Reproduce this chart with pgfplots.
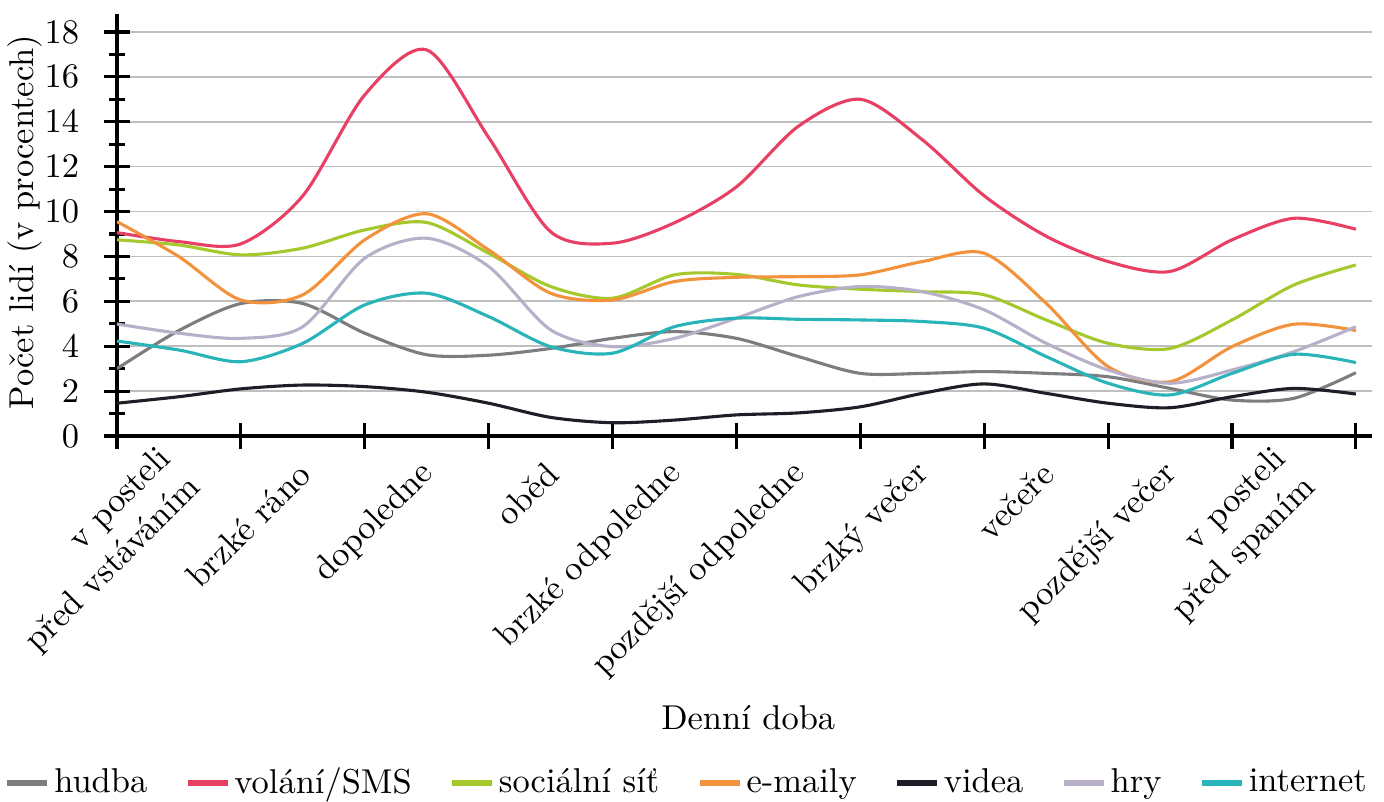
\documentclass[border=0pt]{standalone}
\usepackage{pgfplots}
\usepackage{pgfplotstable}
\pgfplotsset{compat=1.18}

\definecolor{chudba}{RGB}{125,125,128}
\definecolor{csms}{RGB}{232,64,100}
\definecolor{csoc}{RGB}{165,200,45}
\definecolor{cmail}{RGB}{243,146,60}
\definecolor{cvid}{RGB}{30,30,38}
\definecolor{chry}{RGB}{184,176,200}
\definecolor{cnet}{RGB}{40,180,185}

% values read at every tick (t = 0,1,...) and between ticks (t = 0.5, 1.5, ...)
\pgfplotstableread{
t   hudba sms  soc  email videa hry  internet
0   3.00  9.06 8.74 9.55  1.46  4.99 4.23
0.5 4.70  8.66 8.51 7.99  1.75  4.58 3.83
1   5.90  8.56 8.07 6.06  2.10  4.35 3.31
1.5 5.90  10.7 8.37 6.29  2.27  4.87 4.13
2   4.58  15.2 9.18 8.74  2.20  7.92 5.84
2.5 3.62  17.2 9.51 9.90  1.95  8.81 6.36
3   3.60  13.3 8.14 8.29  1.46  7.55 5.32
3.5 3.90  9.10 6.66 6.36  0.83  4.73 3.98
4   4.35  8.59 6.14 6.06  0.59  3.98 3.69
4.5 4.65  9.50 7.18 6.88  0.71  4.35 4.87
5   4.35  11.1 7.20 7.07  0.94  5.25 5.25
5.5 3.54  13.8 6.73 7.10  1.03  6.21 5.20
6   2.79  15.0 6.54 7.18  1.30  6.66 5.17
6.5 2.79  13.2 6.43 7.77  1.90  6.43 5.10
7   2.87  10.7 6.29 8.14  2.32  5.62 4.80
7.5 2.79  8.90 5.17 5.91  1.90  4.13 3.54
8   2.64  7.77 4.13 3.09  1.46  2.94 2.35
8.5 2.12  7.33 3.90 2.42  1.26  2.35 1.83
9   1.60  8.74 5.17 3.98  1.75  2.94 2.79
9.5 1.68  9.70 6.73 4.98  2.12  3.76 3.64
10  2.82  9.21 7.62 4.70  1.87  4.87 3.27
}\data

\begin{document}
\begin{tikzpicture}
\begin{axis}[
    scale only axis,
    width=363.95pt, height=122.38pt,
    xmin=0, xmax=10.13, ymin=0, ymax=18.8,
    axis lines*=left,
    axis line style={line width=0.9pt, black},
    xtick={0,...,10}, xticklabels={},
    extra x ticks={0.5,1.5,2.5,3.5,4.5,5.5,6.5,7.5,8.5,9.5},
    extra x tick labels={{v posteli\\před vstáváním},brzké ráno,dopoledne,oběd,brzké odpoledne,pozdější odpoledne,brzký večer,večeře,pozdější večer,{v posteli\\před spaním}},
    extra x tick style={major tick length=0pt,
        xticklabel style={xshift=3pt, yshift=-7pt, rotate=45, anchor=east, align=right}},
    ytick={0,2,...,18}, minor ytick={1,3,...,17},
    tick align=center, major tick length=7.5pt, minor tick length=4.6pt,
    tick style={line width=0.9pt, black},
    ymajorgrids, grid style={gray!50, line width=0.5pt},
    yticklabel style={xshift=-3.7pt},
    ylabel={Počet lidí (v procentech)},
    ylabel style={at={(axis description cs:-0.0733,0.507)}, anchor=center},
    xlabel={Denní doba},
    xlabel style={at={(axis description cs:0.503,-0.668)}, anchor=center},
    legend columns=7,
    legend style={draw=none, fill=none, at={(axis description cs:-0.0901,-0.822)}, anchor=west,
        inner xsep=0pt, inner ysep=0pt, nodes={inner sep=1.2pt, text depth=0.15em},
        /tikz/every even column/.append style={column sep=9.7pt}},
    legend image code/.code={\draw[#1, line width=1.6pt] (0pt,0pt) -- (11.6pt,0pt);},
    every axis plot/.append style={line width=0.9pt, smooth},
]
\addplot[chudba] table[x=t, y=hudba]{\data};
\addlegendentry{hudba}
\addplot[csms] table[x=t, y=sms]{\data};
\addlegendentry{volání/SMS}
\addplot[csoc] table[x=t, y=soc]{\data};
\addlegendentry{sociální síť}
\addplot[cmail] table[x=t, y=email]{\data};
\addlegendentry{e-maily}
\addplot[cvid] table[x=t, y=videa]{\data};
\addlegendentry{videa}
\addplot[chry] table[x=t, y=hry]{\data};
\addlegendentry{hry}
\addplot[cnet] table[x=t, y=internet]{\data};
\addlegendentry{internet}
\end{axis}
\pgfresetboundingbox
\path (-33.93pt,-106.14pt) rectangle (367.43pt,126.44pt);
\end{tikzpicture}
\end{document}
